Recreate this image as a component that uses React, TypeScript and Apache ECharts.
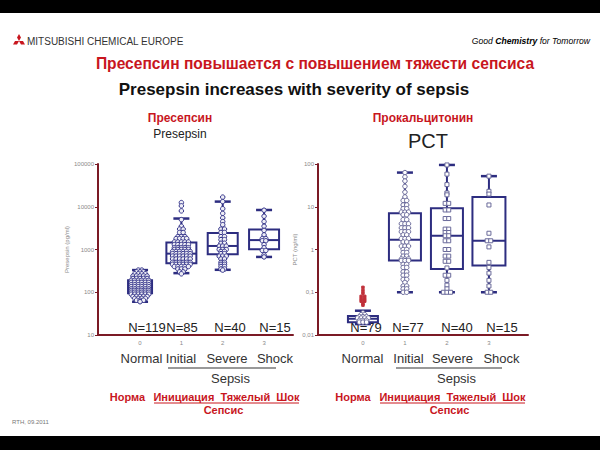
import React, { useEffect, useRef } from "react";
import * as echarts from "echarts";

// ---------- data ----------
const groupLabels = ["Normal", "Initial", "Severe", "Shock"];
const groupTicks = [0, 1, 2, 3];
const presepsinN = ["N=119", "N=85", "N=40", "N=15"];
const pctN = ["N=79", "N=77", "N=40", "N=15"];
const presepsinTicks = ["10", "100", "1000", "10000", "100000"];
const pctTicks = ["0,01", "0,1", "1", "10", "100"];

// [min, q1, median, q3, max]
const presepsinBoxes = [
  [60, 95, 130, 190, 330],
  [280, 480, 800, 1450, 5300],
  [335, 770, 1210, 2440, 13200],
  [670, 1010, 1660, 2930, 8400],
];
const pctBoxes = [
  [0.018, 0.02, 0.024, 0.028, 0.037],
  [0.1, 0.55, 1.7, 7.0, 63],
  [0.1, 0.35, 2.1, 9.2, 95],
  [0.1, 0.42, 1.6, 16.8, 52],
];

// individual observations: value levels and how many points sit at each level
const preNormalLevels = [330, 300, 270, 240, 210, 190, 170, 150, 135, 120, 110, 100, 90, 80, 72, 65, 60];
const preNormalCounts = [2, 3, 4, 5, 5, 6, 6, 6, 6, 6, 6, 6, 6, 5, 4, 3, 1];
const preInitialLevels = [12500, 10500, 8000, 5000, 3500, 3000, 2500, 2000, 1800, 1500, 1300, 1100, 1000, 900, 800, 700, 600, 500, 450, 400, 350, 300, 270];
const preInitialCounts = [1, 1, 1, 1, 1, 2, 2, 3, 4, 5, 5, 5, 5, 6, 6, 6, 6, 6, 6, 5, 3, 2, 1];
const preSevereLevels = [16800, 13200, 9000, 7000, 5500, 4500, 3800, 3000, 2500, 2000, 1700, 1400, 1200, 1000, 900, 800, 700, 600, 500, 450, 400, 350, 330];
const preSevereCounts = [1, 1, 1, 1, 1, 1, 1, 2, 2, 2, 2, 2, 3, 3, 2, 2, 3, 2, 2, 2, 2, 2, 1];
const preShockLevels = [8300, 6000, 4500, 3500, 2800, 2200, 1800, 1600, 1300, 1100, 950, 750, 670];
const preShockCounts = [1, 1, 1, 1, 1, 1, 2, 2, 1, 1, 2, 1, 1];

const pctNormalLevels = [0.033, 0.03, 0.027, 0.025, 0.022, 0.02];
const pctNormalCounts = [1, 2, 3, 4, 3, 3];
const pctNormalOutlierLevels = [0.13, 0.11, 0.095, 0.08, 0.07, 0.062, 0.055, 0.05];
const pctNormalOutlierCounts = [1, 1, 1, 2, 2, 2, 1, 1];
const pctInitialLevels = [63, 50, 40, 30, 22, 17, 14, 11, 9, 7.5, 6.5, 5, 4, 3.2, 2.6, 2.2, 1.8, 1.5, 1.2, 1.0, 0.85, 0.7, 0.6, 0.55, 0.45, 0.38, 0.3, 0.25, 0.2, 0.17, 0.14, 0.12, 0.1];
const pctInitialCounts = [1, 1, 1, 1, 1, 1, 2, 2, 2, 3, 2, 2, 3, 3, 3, 2, 3, 2, 3, 2, 2, 2, 3, 3, 2, 2, 2, 2, 2, 1, 2, 2, 2];
const pctSevereLevels = [95, 58, 33, 21, 19, 12, 8.4, 5.3, 3, 2.5, 2.1, 1.6, 1.0, 0.7, 0.53, 0.37, 0.25, 0.19, 0.147, 0.12, 0.1];
const pctSevereCounts = [1, 1, 1, 1, 1, 2, 2, 2, 2, 2, 2, 2, 2, 2, 2, 1, 2, 1, 1, 1, 3];
const pctShockLevels = [52, 23, 19.8, 11, 2.4, 1.6, 1.15, 0.5, 0.38, 0.28, 0.19, 0.14, 0.1];
const pctShockCounts = [1, 1, 1, 1, 1, 2, 1, 1, 1, 1, 1, 1, 2];

// ---------- styles ----------
const NAVY = "#2d2d80";
const MAROON = "#7b1a25";
const RED = "#c8161e";
const FONT = "'Liberation Sans', Arial, sans-serif";
const LEFT_X = { min: -1.017, max: 3.7 };
const RIGHT_X = { min: -1.07, max: 3.93 };
const LEFT_BOX_W = [24, 30, 30, 30];
const RIGHT_BOX_W = [30, 32, 32, 33];
const CAP_W = 16;
const POINT_STEP = 0.085;

function swarm(group: number, levels: number[], counts: number[]) {
  const pts: number[][] = [];
  levels.forEach((v, i) => {
    const c = counts[i];
    for (let j = 0; j < c; j++) pts.push([group + (j - (c - 1) / 2) * POINT_STEP, v]);
  });
  return pts;
}

function boxSeries(boxes: number[][], idx: number, widths: number[]) {
  return {
    type: "custom",
    xAxisIndex: idx,
    yAxisIndex: idx,
    encode: { x: 0, y: [1, 2, 3, 4, 5] },
    data: boxes.map((b, i) => [groupTicks[i], ...b]),
    z: 2,
    renderItem: (params: any, api: any) => {
      const x = api.value(0);
      const pMin = api.coord([x, api.value(1)]);
      const pQ1 = api.coord([x, api.value(2)]);
      const pMed = api.coord([x, api.value(3)]);
      const pQ3 = api.coord([x, api.value(4)]);
      const pMax = api.coord([x, api.value(5)]);
      const cx = pMin[0];
      const hw = widths[params.dataIndex] / 2;
      const st = { stroke: NAVY, lineWidth: 2, fill: "none" };
      const cap = { stroke: NAVY, lineWidth: 2.5 };
      return {
        type: "group",
        children: [
          { type: "line", shape: { x1: cx, y1: pMin[1], x2: cx, y2: pQ1[1] }, style: st },
          { type: "line", shape: { x1: cx, y1: pQ3[1], x2: cx, y2: pMax[1] }, style: st },
          { type: "line", shape: { x1: cx - CAP_W / 2, y1: pMin[1], x2: cx + CAP_W / 2, y2: pMin[1] }, style: cap },
          { type: "line", shape: { x1: cx - CAP_W / 2, y1: pMax[1], x2: cx + CAP_W / 2, y2: pMax[1] }, style: cap },
          { type: "rect", shape: { x: cx - hw, y: pQ3[1], width: hw * 2, height: pQ1[1] - pQ3[1] }, style: st },
          { type: "line", shape: { x1: cx - hw, y1: pMed[1], x2: cx + hw, y2: pMed[1] }, style: st },
        ],
      };
    },
  };
}

function pointSeries(data: number[][], idx: number, symbol: string, size: number, border: string, fill: string) {
  return {
    type: "scatter",
    xAxisIndex: idx,
    yAxisIndex: idx,
    data,
    symbol,
    symbolSize: size,
    z: 3,
    itemStyle: { color: fill, borderColor: border, borderWidth: 1, opacity: 1 },
    silent: true,
  };
}

function txt(text: string, x: number, y: number, size: number, fill: string, weight = "normal", align = "center", extra: any = {}) {
  return {
    type: "text",
    x,
    y,
    silent: true,
    style: {
      text,
      fill,
      font: `${weight} ${size}px ${FONT}`,
      align,
      verticalAlign: "middle",
      textAlign: align,
      textVerticalAlign: "middle",
      ...extra,
    },
  };
}

function hline(x1: number, x2: number, y: number, color: string, w = 1) {
  return { type: "line", silent: true, shape: { x1, y1: y, x2, y2: y }, style: { stroke: color, lineWidth: w } };
}

const tickFmt = (ticks: string[], base: number) => (v: number) => {
  const k = Math.round(Math.log10(v)) - base;
  return ticks[k] ?? "";
};

export default function App() {
  const ref = useRef<HTMLDivElement>(null);
  useEffect(() => {
    document.body.style.margin = "0";
    const chart = echarts.init(ref.current!, null, { renderer: "svg" });

    const axisLabelY = { fontSize: 6, color: "#8a8a8a", fontFamily: FONT, margin: 4 };
    const xAxisCommon = {
      type: "value",
      axisLine: { show: true, onZero: false, lineStyle: { color: MAROON, width: 2 } },
      axisTick: { show: false },
      splitLine: { show: false },
      axisLabel: { fontSize: 6, color: "#8a8a8a", fontFamily: FONT, margin: 5, customValues: groupTicks, formatter: (v: number) => String(Math.round(v)) },
    };
    const yAxisCommon = {
      type: "log",
      logBase: 10,
      axisLine: { show: true, onZero: false, lineStyle: { color: MAROON, width: 2 } },
      axisTick: { show: true, length: 3, lineStyle: { color: MAROON } },
      minorTick: { show: false },
      splitLine: { show: false },
      nameLocation: "middle",
      nameRotate: 90,
      nameTextStyle: { fontSize: 6, color: "#8a8a8a", fontFamily: FONT },
    };

    const graphics: any[] = [
      { type: "rect", silent: true, shape: { x: 0, y: 0, width: 600, height: 13 }, style: { fill: "#000" } },
      { type: "rect", silent: true, shape: { x: 0, y: 436, width: 600, height: 14 }, style: { fill: "#000" } },
      // Mitsubishi logo
      { type: "polygon", silent: true, shape: { points: [[19, 41], [17, 37.5], [19, 34], [21, 37.5]] }, style: { fill: RED } },
      { type: "polygon", silent: true, shape: { points: [[19, 41], [15, 41], [13, 44.5], [17, 44.5]] }, style: { fill: RED } },
      { type: "polygon", silent: true, shape: { points: [[19, 41], [23, 41], [25, 44.5], [21, 44.5]] }, style: { fill: RED } },
      txt("MITSUBISHI CHEMICAL EUROPE", 27, 41, 10, "#333", "normal", "left"),
      {
        type: "text",
        x: 590,
        y: 41,
        silent: true,
        style: {
          text: "{a|Good }{b|Chemistry}{c| for Tomorrow}",
          align: "right",
          verticalAlign: "middle",
          textAlign: "right",
          textVerticalAlign: "middle",
          rich: {
            a: { fontSize: 8.6, fontStyle: "italic", color: "#5f8a3a", fontFamily: FONT },
            b: { fontSize: 8.6, fontStyle: "italic", fontWeight: "bold", color: "#1f8a3c", fontFamily: FONT },
            c: { fontSize: 8.6, fontStyle: "italic", color: "#6aaa50", fontFamily: FONT },
          },
        },
      },
      txt("Пресепсин повышается с повышением тяжести сепсиса", 315, 63, 15.6, RED, "bold"),
      txt("Presepsin increases with severity of sepsis", 294, 89, 17, "#111", "bold"),
      txt("Пресепсин", 180, 118, 12, RED, "bold"),
      txt("Presepsin", 180, 134, 12, "#222"),
      txt("Прокальцитонин", 423, 118, 12, RED, "bold"),
      txt("PCT", 428, 141, 20, "#222"),
      txt("RTH, 09.2011", 12, 422, 6, "#777", "normal", "left"),
    ];

    const nLeftX = [147, 182, 230, 275];
    const nRightX = [366, 408, 457, 502];
    presepsinN.forEach((t, i) => graphics.push(txt(t, nLeftX[i], 327, 13, "#222")));
    pctN.forEach((t, i) => graphics.push(txt(t, nRightX[i], 327, 13, "#222")));

    const catLeftX = [141.5, 181, 227, 275];
    const catRightX = [362.5, 408.5, 452.5, 501.5];
    groupLabels.forEach((t, i) => {
      graphics.push(txt(t, catLeftX[i], 358, 13, "#333"));
      graphics.push(txt(t, catRightX[i], 358, 13, "#333"));
    });
    graphics.push(hline(168, 276, 368, "#777", 1.5));
    graphics.push(hline(396, 502, 368, "#777", 1.5));
    graphics.push(txt("Sepsis", 230.5, 378, 13, "#333"));
    graphics.push(txt("Sepsis", 456.5, 378, 13, "#333"));

    graphics.push(txt("Норма", 127.5, 397, 11, RED, "bold"));
    graphics.push(txt("Инициация  Тяжелый  Шок", 226.5, 397, 11, RED, "bold"));
    graphics.push(hline(154, 299, 403, RED, 1));
    graphics.push(txt("Сепсис", 223.5, 410, 11, RED, "bold"));
    graphics.push(txt("Норма", 353, 397, 11, RED, "bold"));
    graphics.push(txt("Инициация  Тяжелый  Шок", 452.5, 397, 11, RED, "bold"));
    graphics.push(hline(380, 525, 403, RED, 1));
    graphics.push(txt("Сепсис", 449.5, 410, 11, RED, "bold"));

    const option: any = {
      animation: false,
      backgroundColor: "#fff",
      grid: [
        { left: 98, top: 164, width: 195, height: 171 },
        { left: 318, top: 164, width: 210, height: 171 },
      ],
      xAxis: [
        { ...xAxisCommon, gridIndex: 0, min: LEFT_X.min, max: LEFT_X.max },
        { ...xAxisCommon, gridIndex: 1, min: RIGHT_X.min, max: RIGHT_X.max },
      ],
      yAxis: [
        { ...yAxisCommon, gridIndex: 0, min: 10, max: 100000, name: "Presepsin (pg/ml)", nameGap: 28, axisLabel: { ...axisLabelY, formatter: tickFmt(presepsinTicks, 1) } },
        { ...yAxisCommon, gridIndex: 1, min: 0.01, max: 100, name: "PCT (ng/ml)", nameGap: 18, axisLabel: { ...axisLabelY, formatter: tickFmt(pctTicks, -2) } },
      ],
      series: [
        boxSeries(presepsinBoxes, 0, LEFT_BOX_W),
        boxSeries(pctBoxes, 1, RIGHT_BOX_W),
        pointSeries(
          [
            ...swarm(0, preNormalLevels, preNormalCounts),
            ...swarm(1, preInitialLevels, preInitialCounts),
            ...swarm(2, preSevereLevels, preSevereCounts),
            ...swarm(3, preShockLevels, preShockCounts),
          ],
          0, "circle", 4.5, "#34348a", "#eeeef6"
        ),
        pointSeries(
          [...swarm(0, pctNormalLevels, pctNormalCounts), ...swarm(1, pctInitialLevels, pctInitialCounts)],
          1, "circle", 4.5, "#6a6a9a", "#fff"
        ),
        pointSeries(
          [...swarm(2, pctSevereLevels, pctSevereCounts), ...swarm(3, pctShockLevels, pctShockCounts)],
          1, "rect", 4, "#6a6a9a", "#fff"
        ),
        pointSeries(swarm(0, pctNormalOutlierLevels, pctNormalOutlierCounts), 1, "rect", 2.5, "#c0303a", "#c0303a"),
      ],
      graphic: { elements: graphics },
    };
    chart.setOption(option);
    return () => chart.dispose();
  }, []);
  return <div ref={ref} style={{ width: 600, height: 450 }} />;
}
